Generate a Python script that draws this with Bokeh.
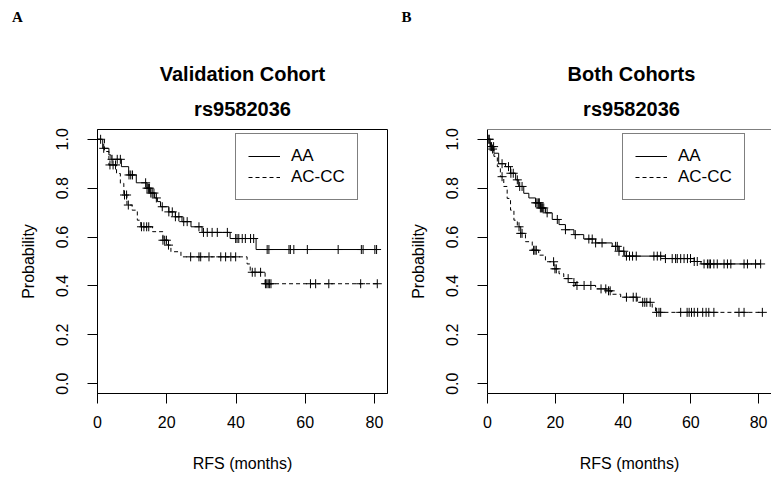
import numpy as np
from bokeh.plotting import figure
from bokeh.layouts import row, column
from bokeh.models import (Range1d, FixedTicker, PrintfTickFormatter, Label,
                          Legend, LegendItem, Span)
from bokeh.embed import file_html
from bokeh.resources import INLINE

# ---------------- data ----------------
group_labels = ["AA", "AC-CC"]
x_ticks = [0, 20, 40, 60, 80]
y_ticks = [0.0, 0.2, 0.4, 0.6, 0.8, 1.0]

# Panel A : Validation cohort
va_aa_t = [0, 1.5, 3.3, 3.9, 6.9, 9.0, 11.2, 14.3, 15.2, 16.5, 17.3, 18.2, 20.6,
           22.5, 24.4, 27.0, 30.2, 38.3, 45.8]
va_aa_s = [1.0, 0.963, 0.936, 0.918, 0.888, 0.854, 0.822, 0.80, 0.78, 0.76, 0.745,
           0.724, 0.703, 0.683, 0.663, 0.642, 0.619, 0.594, 0.549]
va_aa_cens = [0.9, 1.8, 4.2, 5.7, 6.6, 9.1, 9.6, 10.1, 13.9, 14.3, 14.7, 15.0, 15.4,
              15.8, 16.3, 17.0, 18.7, 20.6, 21.6, 22.5, 23.5, 24.9, 25.9, 29.3, 30.6,
              31.7, 33.1, 34.6, 37.5, 39.9, 40.3, 40.8, 41.8, 42.7, 44.2, 45.1, 49.0,
              49.5, 55.3, 55.7, 56.7, 60.6, 69.5, 76.2, 76.7, 80.1, 80.6]
va_ac_t = [0, 2.0, 3.3, 5.5, 6.6, 7.6, 8.5, 10.0, 11.5, 12.5, 15.9, 18.9, 20.3,
           21.2, 24.1, 43.2, 44.1, 48.4]
va_ac_s = [1.0, 0.95, 0.895, 0.86, 0.82, 0.772, 0.731, 0.71, 0.669, 0.642, 0.622,
           0.587, 0.567, 0.54, 0.519, 0.49, 0.456, 0.409]
va_ac_cens = [3.6, 4.5, 5.2, 7.8, 8.4, 8.9, 12.7, 13.4, 14.2, 14.8, 18.9, 19.4, 19.9,
              20.5, 26.9, 29.3, 29.8, 32.2, 35.6, 37.0, 38.5, 39.9, 44.7, 45.5, 47.1,
              48.5, 48.9, 49.3, 49.7, 50.1, 61.5, 63.0, 66.8, 76.0, 80.8]

# Panel B : Both cohorts
bc_aa_t = [0, 0.8, 1.9, 3.3, 5.3, 6.8, 8.3, 9.2, 10.7, 12.2, 14.2, 15.6, 17.1, 19.1,
           21.1, 23.0, 25.5, 28.4, 31.9, 36.8, 38.8, 40.5, 52.5, 61.0, 63.0]
bc_aa_s = [1.0, 0.97, 0.943, 0.90, 0.888, 0.861, 0.834, 0.807, 0.779, 0.76, 0.74,
           0.719, 0.699, 0.672, 0.651, 0.63, 0.61, 0.592, 0.576, 0.562, 0.542, 0.522,
           0.512, 0.50, 0.49]
bc_aa_cens = [0.4, 0.8, 1.2, 1.8, 4.3, 6.2, 6.9, 7.6, 8.8, 9.5, 10.2, 14.2, 14.6, 15.0,
              15.3, 15.6, 15.9, 16.2, 16.6, 17.6, 20.6, 23.0, 25.9, 29.9, 30.9, 31.9,
              33.8, 37.8, 38.3, 38.8, 40.2, 41.0, 41.9, 42.8, 43.9, 49.1, 50.1, 51.1,
              52.5, 54.5, 55.5, 56.0, 57.0, 58.0, 59.0, 59.9, 61.0, 61.9, 63.9, 64.9,
              65.4, 65.8, 66.8, 67.8, 69.8, 70.8, 71.8, 75.7, 76.7, 79.1, 80.6]
bc_ac_t = [0, 1.0, 1.9, 2.9, 3.8, 4.8, 5.8, 6.8, 7.8, 8.8, 9.8, 11.2, 13.2, 15.1,
           17.1, 19.6, 21.1, 22.5, 24.0, 26.0, 31.9, 35.3, 36.6, 39.3, 44.2, 48.6, 49.6]
bc_ac_s = [1.0, 0.96, 0.93, 0.888, 0.847, 0.807, 0.758, 0.71, 0.669, 0.642, 0.615,
           0.581, 0.546, 0.526, 0.499, 0.47, 0.45, 0.43, 0.414, 0.402, 0.388, 0.38,
           0.366, 0.354, 0.333, 0.312, 0.292]
bc_ac_cens = [0.5, 1.5, 4.3, 9.3, 9.8, 10.2, 13.6, 14.0, 14.4, 19.5, 19.9, 20.3, 23.8,
              25.5, 26.4, 28.5, 30.5, 33.5, 34.9, 35.7, 36.2, 41.0, 43.0, 43.9, 45.8,
              46.4, 47.0, 48.0, 49.9, 50.6, 51.1, 57.0, 58.9, 59.5, 60.2, 61.0, 62.0,
              63.5, 64.5, 65.3, 66.8, 74.2, 75.7, 81.1]

FONT = "Liberation Sans"
SERIF = "Liberation Serif"
HEAD = 124          # height of the header strip (titles, panel letters)
H = 352             # height of each plot figure
TOP = 5             # border above the plot box


def curve(p, t, s, cens, dash):
    t = np.asarray(t, float)
    s = np.asarray(s, float)
    cens = np.asarray(cens, float)
    tx = np.append(t, cens.max())
    sx = np.append(s, s[-1])
    r = p.step(tx, sx, mode="after", line_color="black", line_width=1,
               line_dash=dash)
    idx = np.searchsorted(t, cens, side="right") - 1
    p.scatter(cens, s[idx], marker="cross", size=9, line_color="black",
              line_width=1)
    return r


def header(heading, letter, width, frame_center):
    h = figure(width=width, height=HEAD, x_range=Range1d(0, width),
               y_range=Range1d(0, HEAD), output_backend="svg",
               toolbar_location=None, x_axis_type=None, y_axis_type=None,
               min_border=0, outline_line_color=None,
               background_fill_color="white", border_fill_color="white")
    h.grid.visible = False
    h.add_layout(Label(x=frame_center, y=HEAD - 73, text=heading,
                       text_align="center", text_baseline="middle",
                       text_font=FONT, text_font_size="20px",
                       text_font_style="bold", text_color="black"))
    h.add_layout(Label(x=frame_center, y=HEAD - 108, text="rs9582036",
                       text_align="center", text_baseline="middle",
                       text_font=FONT, text_font_size="20px",
                       text_font_style="bold", text_color="black"))
    h.add_layout(Label(x=frame_center - 225, y=HEAD - 16, text=letter,
                       text_align="center", text_baseline="middle",
                       text_font=SERIF, text_font_size="15px",
                       text_font_style="bold", text_color="black"))
    return h


def panel(xend, width, bl, br, aa, ac, leg_x, outline):
    p = figure(width=width, height=H, x_range=Range1d(0, xend),
               y_range=Range1d(-0.04, 1.04), output_backend="svg",
               toolbar_location=None, min_border_left=bl, min_border_right=br,
               min_border_top=TOP, min_border_bottom=H - TOP - 264,
               background_fill_color="white", border_fill_color="white")
    p.grid.visible = False
    p.outline_line_color = "black" if outline else None
    if not outline:
        p.add_layout(Span(location=1.04, dimension="width", line_color="black",
                          line_width=1))

    for ax in (p.xaxis[0], p.yaxis[0]):
        ax.major_tick_out = 10
        ax.major_tick_in = 0
        ax.minor_tick_out = 0
        ax.minor_tick_in = 0
        ax.axis_line_color = "black"
        ax.major_tick_line_color = "black"
        ax.major_label_text_font = FONT
        ax.major_label_text_font_size = "16px"
        ax.major_label_text_color = "black"
        ax.axis_label_text_font = FONT
        ax.axis_label_text_font_size = "16px"
        ax.axis_label_text_font_style = "normal"
        ax.axis_label_text_color = "black"

    p.xaxis.ticker = FixedTicker(ticks=x_ticks)
    p.yaxis.ticker = FixedTicker(ticks=y_ticks)
    p.yaxis.formatter = PrintfTickFormatter(format="%.1f")
    p.yaxis.major_label_orientation = "vertical"
    p.xaxis.axis_label = "RFS (months)"
    p.yaxis.axis_label = "Probability"
    p.xaxis.major_label_standoff = 12
    p.yaxis.major_label_standoff = 19
    p.xaxis.axis_label_standoff = 24
    p.yaxis.axis_label_standoff = 17

    r1 = curve(p, *aa, dash="solid")
    r2 = curve(p, *ac, dash="4 3")

    leg = Legend(items=[LegendItem(label=group_labels[0], renderers=[r1]),
                        LegendItem(label=group_labels[1], renderers=[r2])],
                 location=(leg_x, 193), orientation="vertical",
                 border_line_color="black", border_line_width=1,
                 background_fill_color="white", background_fill_alpha=1,
                 padding=12, spacing=1, margin=0, label_height=18,
                 glyph_height=18, glyph_width=32, label_standoff=11,
                 label_text_font=FONT, label_text_font_size="17px",
                 label_text_color="black")
    p.add_layout(leg, "center")
    return p


WA, WB = 388, 383
ha = header("Validation Cohort", "A", WA, 242)
hb = header("Both Cohorts", "B", WB, 631 - WA)
pa = panel(83.75, WA, 97, 1,
           (va_aa_t, va_aa_s, va_aa_cens), (va_ac_t, va_ac_s, va_ac_cens), 138, True)
pb = panel(83.8, WB, 99, 0,
           (bc_aa_t, bc_aa_s, bc_aa_cens), (bc_ac_t, bc_ac_s, bc_ac_cens), 135, False)

layout = column(row(ha, hb, spacing=0), row(pa, pb, spacing=0), spacing=0)
open("out.html", "w").write(file_html(layout, INLINE))
